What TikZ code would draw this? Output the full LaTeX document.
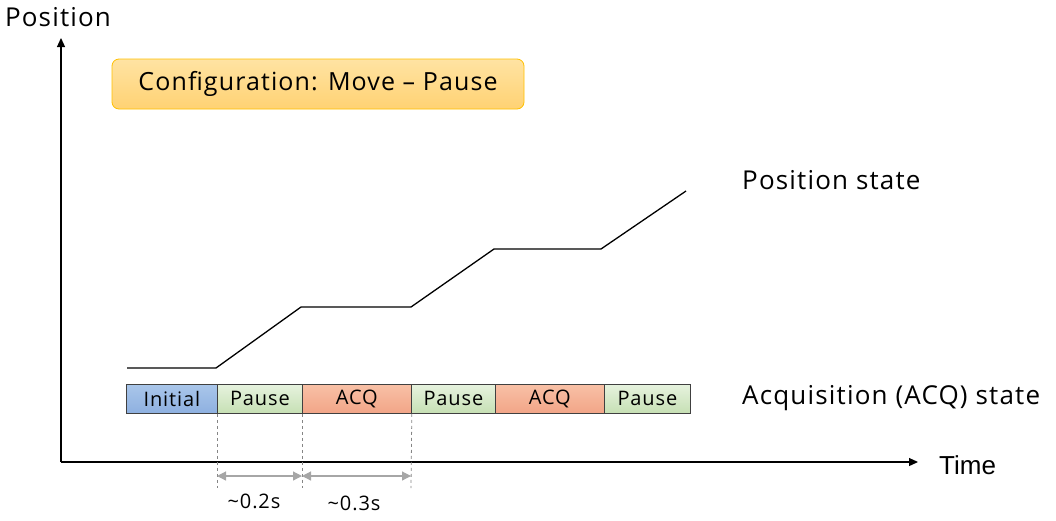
\documentclass[tikz,border=0pt]{standalone}
\usepackage{fontspec}
\setmainfont{Open Sans}[LetterSpace=4.5]
\newfontfamily\arialf{Liberation Sans}
\usetikzlibrary{arrows.meta}
\definecolor{dimc}{HTML}{A6A6A6}
\definecolor{cfgtop}{HTML}{FFE3A3}
\definecolor{cfgbot}{HTML}{FFD273}
\definecolor{cfgdraw}{HTML}{FFC000}
\definecolor{blutop}{HTML}{A9C6EA}
\definecolor{blubot}{HTML}{8EB0E0}
\definecolor{grntop}{HTML}{E6F2DE}
\definecolor{grnbot}{HTML}{C6E0B4}
\definecolor{redtop}{HTML}{F8C0A6}
\definecolor{redbot}{HTML}{F2A587}
\begin{document}
\begin{tikzpicture}[x=1pt,y=-1pt,
  lbl/.style={inner sep=0pt,anchor=west},
  seg/.style={draw=black!75,line width=0.8pt,minimum height=29pt,inner sep=0pt,font=\fontsize{20}{20}\selectfont,anchor=north west},
  initbox/.style={seg,top color=blutop,bottom color=blubot},
  pausebox/.style={seg,top color=grntop,bottom color=grnbot},
  acqbox/.style={seg,top color=redtop,bottom color=redbot},
  dimline/.style={dimc,line width=1.2pt,{Triangle[length=9pt,width=9pt]}-{Triangle[length=9pt,width=9pt]}},
  guide/.style={dimc!80!black,dashed,line width=0.8pt}]
\useasboundingbox (0,0) rectangle (1056,520);
% axes
\coordinate (o) at (61,462);
\coordinate (ytop) at (61,38);
\coordinate (xend) at (918,462);
\draw[line width=1.2pt,-{Triangle[length=9pt,width=8pt]}] (o) -- (ytop);
\draw[line width=1.2pt,-{Triangle[length=9pt,width=8pt]}] (o) -- (xend);
\node[inner sep=0pt,font=\fontsize{26}{26}\selectfont] (pos) at (58,17) {Position};
\node[lbl,font=\arialf\fontsize{26}{26}\selectfont] (time) at (939,465) {Time};
% configuration box
\node[draw=cfgdraw,line width=0.8pt,rounded corners=7pt,top color=cfgtop,bottom color=cfgbot,
  minimum width=412pt,minimum height=50pt,inner sep=0pt,font=\fontsize{25}{25}\selectfont] (cfg) at (318,84) {Configuration: Move -- Pause};
% position state
\coordinate (p0) at (127,368);
\coordinate (p1) at (216,368);
\coordinate (p2) at (301,307);
\coordinate (p3) at (411,307);
\coordinate (p4) at (494,249);
\coordinate (p5) at (601,249);
\coordinate (p6) at (686,191);
\draw[line width=1.3pt] (p0) -- (p1) -- (p2) -- (p3) -- (p4) -- (p5) -- (p6);
\node[lbl,font=\fontsize{26}{26}\selectfont] (ps) at (742,180) {Position state};
% acquisition states
\node[initbox,minimum width=91pt] (s1) at (126,384) {Initial};
\node[pausebox,minimum width=85pt] (s2) at (217,384) {Pause};
\node[acqbox,minimum width=109pt] (s3) at (302,384) {ACQ};
\node[pausebox,minimum width=84pt] (s4) at (411,384) {Pause};
\node[acqbox,minimum width=109pt] (s5) at (495,384) {ACQ};
\node[pausebox,minimum width=86pt] (s6) at (604,384) {Pause};
\node[lbl,font=\fontsize{26}{26}\selectfont] (acq) at (742,398) {Acquisition (ACQ) state};
% guides
\coordinate (g1) at (217,488);
\coordinate (g2) at (302,488);
\coordinate (g3) at (411,488);
\draw[guide] (s2.south west) -- (g1);
\draw[guide] (s3.south west) -- (g2);
\draw[guide] (s3.south east) -- (g3);
\coordinate (a1) at (217,476);
\coordinate (a2) at (302,476);
\coordinate (a3) at (411,476);
\draw[dimline] (a1) -- (a2);
\draw[dimline] (a2) -- (a3);
\node[inner sep=0pt,font=\fontsize{20}{20}\selectfont] (d1) at (254,501) {\textasciitilde0.2s};
\node[inner sep=0pt,font=\fontsize{20}{20}\selectfont] (d2) at (354,503) {\textasciitilde0.3s};
\end{tikzpicture}
\end{document}
